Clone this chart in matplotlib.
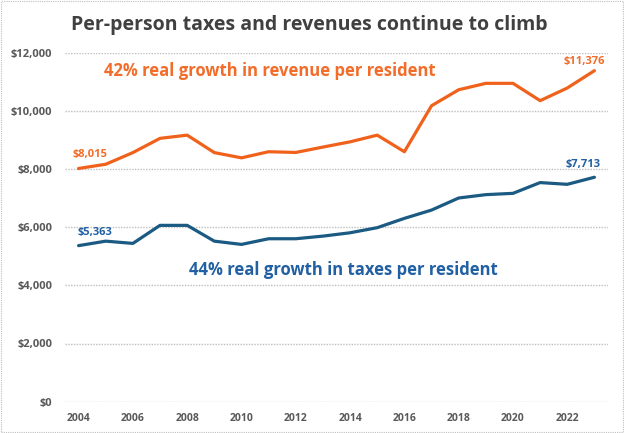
import matplotlib
matplotlib.use("Agg")
import matplotlib.pyplot as plt
from matplotlib.patches import Rectangle
from matplotlib.ticker import FuncFormatter, MultipleLocator

years = list(range(2004, 2024))
revenue = [8015, 8160, 8560, 9050, 9160, 8560, 8380, 8590, 8565, 8750,
           8930, 9160, 8590, 10170, 10720, 10940, 10940, 10345, 10780, 11376]
taxes = [5363, 5517, 5440, 6060, 6060, 5517, 5405, 5600, 5600, 5690,
         5805, 5980, 6300, 6585, 7000, 7115, 7160, 7530, 7470, 7713]
tick_years = list(range(2004, 2024, 2))

title = "Per-person taxes and revenues continue to climb"
rev_note = "42% real growth in revenue per resident"
tax_note = "44% real growth in taxes per resident"

REV_LINE = "#F0621C"
REV_TEXT = "#F26C2A"
TAX_LINE = "#1B5A82"
TAX_TEXT = "#2160A2"
GRAY = "#595959"
FONT = "Open Sans"

plt.rcParams['font.family'] = [FONT, 'DejaVu Sans']

fig = plt.figure(figsize=(6.24, 4.33), dpi=100)
ax = fig.add_axes([65/624, 1 - 401.7/433, (608 - 65)/624, (401.7 - 52.5)/433])

x = list(range(len(years)))
ax.plot(x, revenue, color=REV_LINE, lw=2.3, solid_capstyle='round', zorder=3)
ax.plot(x, taxes, color=TAX_LINE, lw=2.3, solid_capstyle='round', zorder=3)

ax.set_xlim(-0.5, len(years) - 0.5)
ax.set_ylim(0, 12000)
ax.yaxis.set_major_locator(MultipleLocator(2000))
ax.yaxis.set_major_formatter(FuncFormatter(lambda v, p: f"${v:,.0f}"))
ax.set_xticks([years.index(y) for y in tick_years])
ax.set_xticklabels([str(y) for y in tick_years])
ax.tick_params(length=0, labelcolor=GRAY)
ax.tick_params(axis='y', pad=9, labelsize=8)
ax.tick_params(axis='x', pad=8, labelsize=7.5)
for lab in ax.get_xticklabels() + ax.get_yticklabels():
    lab.set_fontweight('bold')
for s in ax.spines.values():
    s.set_visible(False)
ax.grid(axis='y', color='#BFBFBF', lw=1.0, ls=(0, (1, 1)))
ax.set_axisbelow(True)

# data labels
lab_kw = dict(textcoords='offset points', ha='center', va='center', fontsize=8, fontweight='bold')
ax.annotate(f"${revenue[0]:,}", (0, revenue[0]), xytext=(8, 10), color=REV_TEXT, **lab_kw)
ax.annotate(f"${taxes[0]:,}", (0, taxes[0]), xytext=(11.5, 9.5), color=TAX_TEXT, **lab_kw)
ax.annotate(f"${revenue[-1]:,}", (len(years) - 1, revenue[-1]), xytext=(-7, 6.5), color=REV_TEXT, **lab_kw)
ax.annotate(f"${taxes[-1]:,}", (len(years) - 1, taxes[-1]), xytext=(-8.5, 9), color=TAX_TEXT, **lab_kw)

ax.text(0.93, 11370, rev_note, ha='left', va='center', color=REV_TEXT,
        fontsize=12, fontweight='bold')
ax.text(4.07, 4520, tax_note, ha='left', va='center', color=TAX_TEXT,
        fontsize=12, fontweight='bold')

fig.text(309/624, 1 - 25/433, title, ha='center', va='center', color='#404040',
         fontsize=14, fontweight='bold')

fig.patches.append(Rectangle((0.001, 0.002), 0.997, 0.996, transform=fig.transFigure,
                             fill=False, edgecolor='#BFBFBF', lw=0.8, ls=(0, (1, 1))))

fig.savefig("out.png", dpi=100)
